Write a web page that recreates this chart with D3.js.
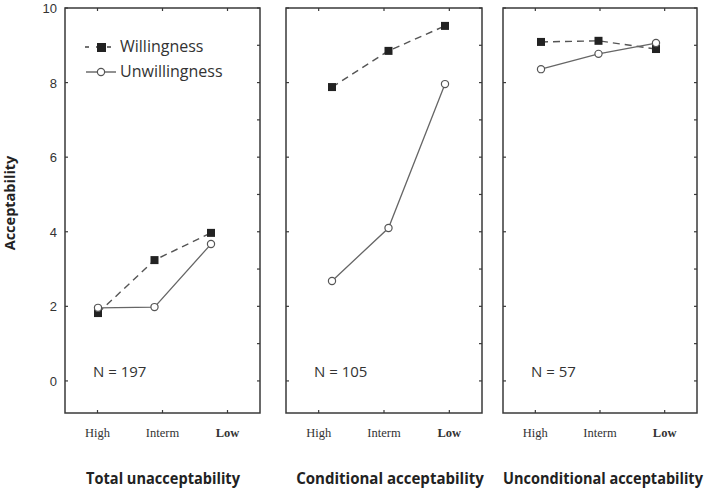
<!DOCTYPE html>
<html><head><meta charset="utf-8">
<script src="https://cdn.jsdelivr.net/npm/d3@7"></script>
<style>body{margin:0;background:#fff}svg{display:block}</style>
</head><body>
<svg id="c" width="709" height="491"></svg>
<script>
const categories = ["High", "Interm", "Low"];
const panelTitles = ["Total unacceptability", "Conditional acceptability", "Unconditional acceptability"];
const sampleSizes = ["N = 197", "N = 105", "N = 57"];
const willingness = [
  [1.82, 3.24, 3.97],
  [7.88, 8.85, 9.52],
  [9.09, 9.12, 8.90]
];
const unwillingness = [
  [1.96, 1.98, 3.67],
  [2.68, 4.10, 7.96],
  [8.36, 8.77, 9.06]
];
const yTickValues = [0, 2, 4, 6, 8, 10];
const yMinorValues = [0, 1, 2, 3, 4, 5, 6, 7, 8, 9, 10];
const seriesNames = ["Willingness", "Unwillingness"];

// layout
const panels = [
  {x0: 65, x1: 260, m0: 33, m1: 146, tl: 154, tx: 163},
  {x0: 286, x1: 482, m0: 46, m1: 159, tl: 188, tx: 390},
  {x0: 503, x1: 697, m0: 38, m1: 153, tl: 200, tx: 603}
];
const plotTop = 8, plotBottom = 413;
const svg = d3.select("#c");
const y = d3.scaleLinear().domain([-0.86, 10]).range([plotBottom, plotTop]);

panels.forEach((p, i) => {
  const g = svg.append("g");
  const x = d3.scalePoint().domain(categories).range([p.x0, p.x1]).padding(0.5);
  const xm = d3.scalePoint().domain(categories).range([p.x0 + p.m0, p.x0 + p.m1]);
  // frame
  g.append("rect").attr("x", p.x0).attr("y", plotTop).attr("width", p.x1 - p.x0).attr("height", plotBottom - plotTop)
    .attr("fill", "none").attr("stroke", "#3a3a3a").attr("stroke-width", 1.5);
  // ticks
  const tk = g.append("g").attr("stroke", "#3a3a3a").attr("stroke-width", 1.2);
  categories.forEach(c => {
    tk.append("line").attr("x1", x(c)).attr("x2", x(c)).attr("y1", plotTop).attr("y2", plotTop + 3);
    tk.append("line").attr("x1", x(c)).attr("x2", x(c)).attr("y1", plotBottom).attr("y2", plotBottom - 3);
  });
  yTickValues.forEach(v => {
    tk.append("line").attr("x1", p.x0).attr("x2", p.x0 + 3).attr("y1", y(v)).attr("y2", y(v));
  });
  yMinorValues.forEach(v => {
    tk.append("line").attr("x1", p.x1).attr("x2", p.x1 - 3).attr("y1", y(v)).attr("y2", y(v));
  });
  // category labels
  g.selectAll("text.cat").data(categories).join("text").attr("class", "cat")
    .attr("x", d => x(d)).attr("y", 437).attr("text-anchor", "middle")
    .attr("font-family", "Liberation Serif, serif").attr("font-size", 12.5)
    .attr("font-weight", d => d === "Low" ? "bold" : "normal").attr("fill", "#333")
    .text(d => d);
  // panel title (horizontally condensed via transform)
  const t = g.append("text").attr("x", 0).attr("y", 0).attr("text-anchor", "middle")
    .attr("font-family", "Open Sans, sans-serif").attr("font-size", 16).attr("font-weight", "bold")
    .attr("fill", "#222").text(panelTitles[i]);
  const w = t.node().getComputedTextLength();
  t.attr("transform", `translate(${p.tx},484) scale(${Math.min(1, p.tl / w)},1)`);
  // N label
  g.append("text").attr("x", p.x0 + 28).attr("y", 377)
    .attr("font-family", "Open Sans, sans-serif").attr("font-size", 15).attr("fill", "#333")
    .text(sampleSizes[i]);
  // lines
  const line = d3.line().x((d, j) => xm(categories[j])).y(d => y(d));
  g.append("path").attr("d", line(willingness[i])).attr("fill", "none")
    .attr("stroke", "#555").attr("stroke-width", 1.4).attr("stroke-dasharray", "7,5");
  g.append("path").attr("d", line(unwillingness[i])).attr("fill", "none")
    .attr("stroke", "#666").attr("stroke-width", 1.3);
  // markers
  g.selectAll("rect.w").data(willingness[i]).join("rect").attr("class", "w")
    .attr("x", (d, j) => xm(categories[j]) - 4).attr("y", d => y(d) - 4)
    .attr("width", 8).attr("height", 8).attr("fill", "#222");
  g.selectAll("circle.u").data(unwillingness[i]).join("circle").attr("class", "u")
    .attr("cx", (d, j) => xm(categories[j])).attr("cy", d => y(d)).attr("r", 3.6)
    .attr("fill", "#fff").attr("stroke", "#555").attr("stroke-width", 1.2);
});

// y tick labels
svg.append("g").selectAll("text").data(yTickValues).join("text")
  .attr("x", 57).attr("y", d => y(d) + 5).attr("text-anchor", "end")
  .attr("font-family", "Liberation Sans, Arial, sans-serif").attr("font-size", 13).attr("fill", "#333")
  .text(d => d);
// y axis title
const yt = svg.append("text").attr("x", 0).attr("y", 0).attr("text-anchor", "middle")
  .attr("font-family", "Open Sans, sans-serif").attr("font-size", 14.5).attr("font-weight", "bold")
  .attr("fill", "#222").text("Acceptability");
const yw = yt.node().getComputedTextLength();
yt.attr("transform", `translate(15,203) rotate(-90) scale(${Math.min(1, 95 / yw)},1)`);

// legend
const lg = svg.append("g");
lg.append("line").attr("x1", 85).attr("x2", 116).attr("y1", 47).attr("y2", 47)
  .attr("stroke", "#444").attr("stroke-width", 1.4).attr("stroke-dasharray", "4,7");
lg.append("rect").attr("x", 97).attr("y", 43).attr("width", 9).attr("height", 9).attr("fill", "#222");
lg.append("line").attr("x1", 86).attr("x2", 116).attr("y1", 72).attr("y2", 72)
  .attr("stroke", "#555").attr("stroke-width", 1.3);
lg.append("circle").attr("cx", 101).attr("cy", 72).attr("r", 3.6).attr("fill", "#fff")
  .attr("stroke", "#555").attr("stroke-width", 1.2);
lg.selectAll("text").data(seriesNames).join("text")
  .attr("x", 120).attr("y", (d, i) => 52 + i * 25)
  .attr("font-family", "Open Sans, sans-serif").attr("font-size", 16).attr("fill", "#333")
  .text(d => d);
</script>
</body></html>
